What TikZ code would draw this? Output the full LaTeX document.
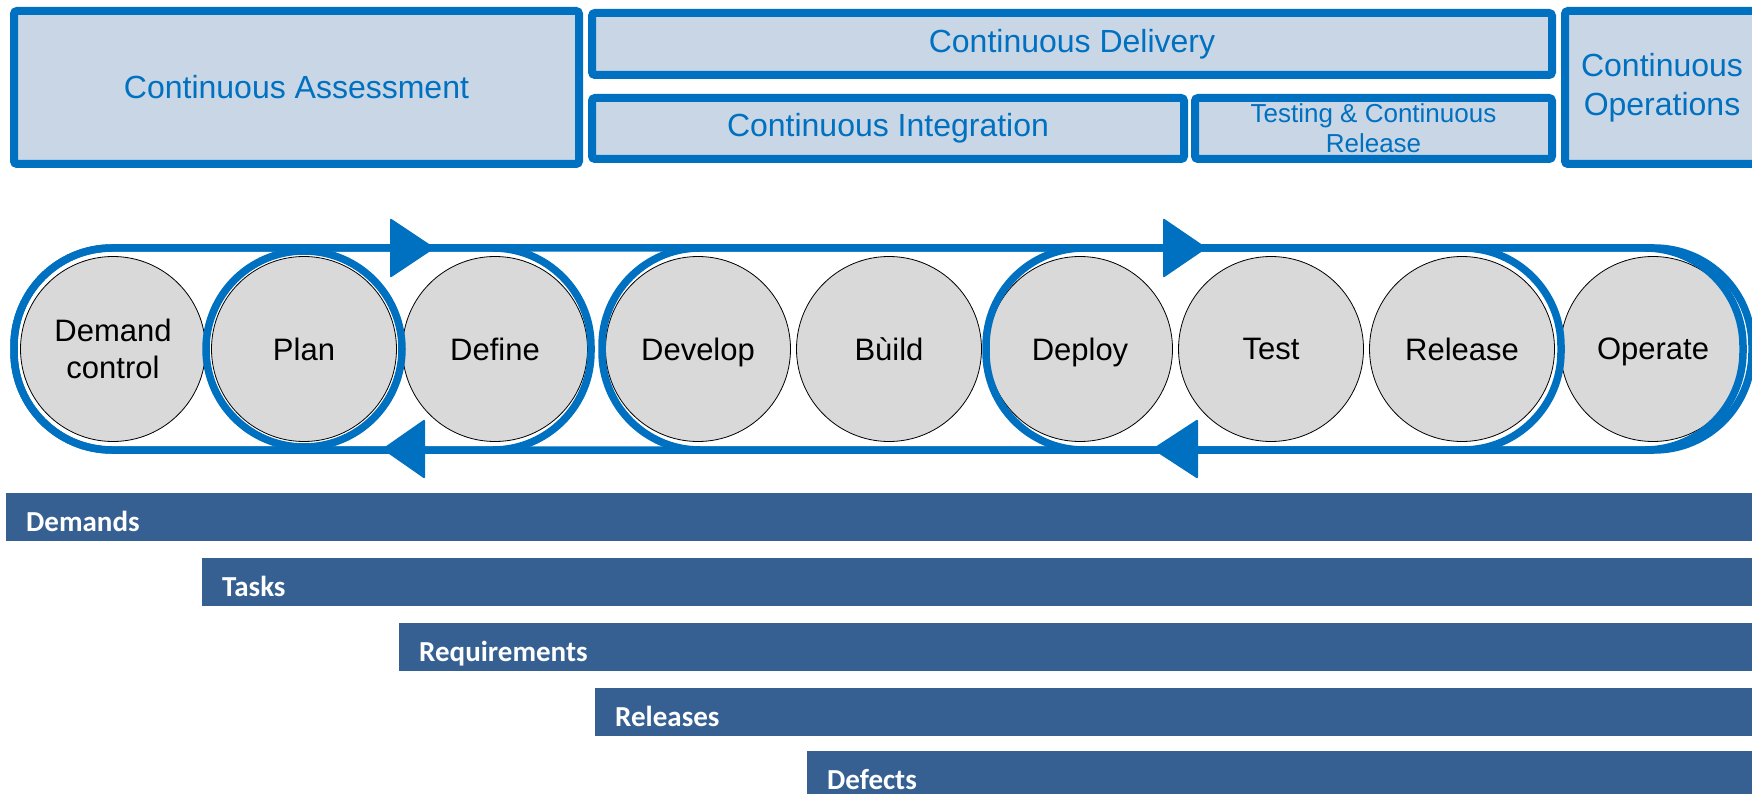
\documentclass[tikz,border=0pt]{standalone}
\usepackage{fontspec}
\setmainfont{Liberation Sans}
\newfontfamily\barfont{Carlito}
\usetikzlibrary{positioning}

\definecolor{loopblue}{RGB}{0,112,192}
\definecolor{phasefill}{RGB}{200,214,229}
\definecolor{stagegray}{RGB}{217,217,217}
\definecolor{barblue}{RGB}{54,96,146}

\tikzset{small phase/.style={phase, font={\fontsize{26}{30}\selectfont}}}

\begin{document}
\begin{tikzpicture}[x=1pt,y=-1pt,node distance=191pt,
    phase/.style={rectangle, rounded corners=3pt, draw=loopblue, line width=8pt,
        fill=phasefill, text=loopblue, align=center, inner sep=0pt,
        font={\fontsize{32}{39}\selectfont}},
    stage/.style={circle, minimum size=185pt, inner sep=0pt, draw=black,
        line width=0.8pt, fill=stagegray, align=center, text depth=0pt,
        font={\fontsize{31}{37}\selectfont}},
    ring/.style={draw=loopblue, line width=7.5pt, rounded corners=98pt},
    tip/.style={fill=loopblue, rounded corners=2pt},
    bar/.style={rectangle, fill=barblue, text=white, anchor=north west,
        inner xsep=20pt, inner ysep=10pt, text height=28pt, text depth=0pt,
        align=left, font={\barfont\bfseries\fontsize{29}{34}\selectfont}}]
\useasboundingbox (0,0) rectangle (1752,794);

% phases on top
\node[phase, minimum width=565pt, minimum height=153pt] (ca) at (296.5,87.5)  {Continuous Assessment};
\node[phase, minimum width=960pt, minimum height=62pt]  (cd) at (1072,44)     {Continuous Delivery};
\node[phase, minimum width=592pt, minimum height=61pt]  (ci) at (888,128.5)   {Continuous Integration};
\node[small phase, minimum width=357pt, minimum height=61pt] (tr) at (1373.5,128.5) {Testing \& Continuous\\Release};
\node[phase, minimum width=194pt, minimum height=153pt] (co) at (1662,87.5)   {Continuous\\Operations};

% stages
\node[stage]         (dc) at (113,349)          {Demand\\control};
\node[stage]         (pl) [right of=dc]         {Plan};
\node[stage]         (df) [right of=pl]         {Define};
\node[stage]         (dv) [right of=df, xshift=12pt] {Develop};
\node[stage]         (bu) [right of=dv]         {Bùild};
\node[stage]         (dp) [right of=bu]         {Deploy};
\node[stage]         (ts) [right of=dp]         {Test};
\node[stage]         (rl) [right of=ts]         {Release};
\node[stage]         (op) [right of=rl]         {Operate};

% loops round the stages
\draw[ring] ([shift={(-99,-101)}]dc.center) rectangle ([shift={(99,101)}]op.center);
\draw[ring] ([shift={(-99,-101)}]dc.center) rectangle ([shift={(96,101)}]df.center);
\draw[ring] (pl.center) circle[radius=98pt];
\draw[ring] ([shift={(-96,-101)}]dv.center) rectangle ([shift={(99,101)}]rl.center);
\draw[ring] ([shift={(-94,-101)}]dp.center) rectangle ([shift={(90,101)}]op.center);

\fill[tip] (435,248) -- (390,218) -- (390,278) -- cycle;
\fill[tip] (1207,248) -- (1163,218) -- (1163,278) -- cycle;
\fill[tip] (382,449) -- (425,419) -- (425,479) -- cycle;
\fill[tip] (1152,449) -- (1198,419) -- (1198,479) -- cycle;

% work items
\node[bar, text width=1714pt] (dm) at (6,493)   {Demands};
\node[bar, text width=1518pt] (tk) at (202,558) {Tasks};
\node[bar, text width=1321pt] (rq) at (399,623) {Requirements};
\node[bar, text width=1125pt] (rs) at (595,688) {Releases};
\node[bar, text width=913pt]  (de) at (807,751) {Defects};

\end{tikzpicture}
\end{document}
